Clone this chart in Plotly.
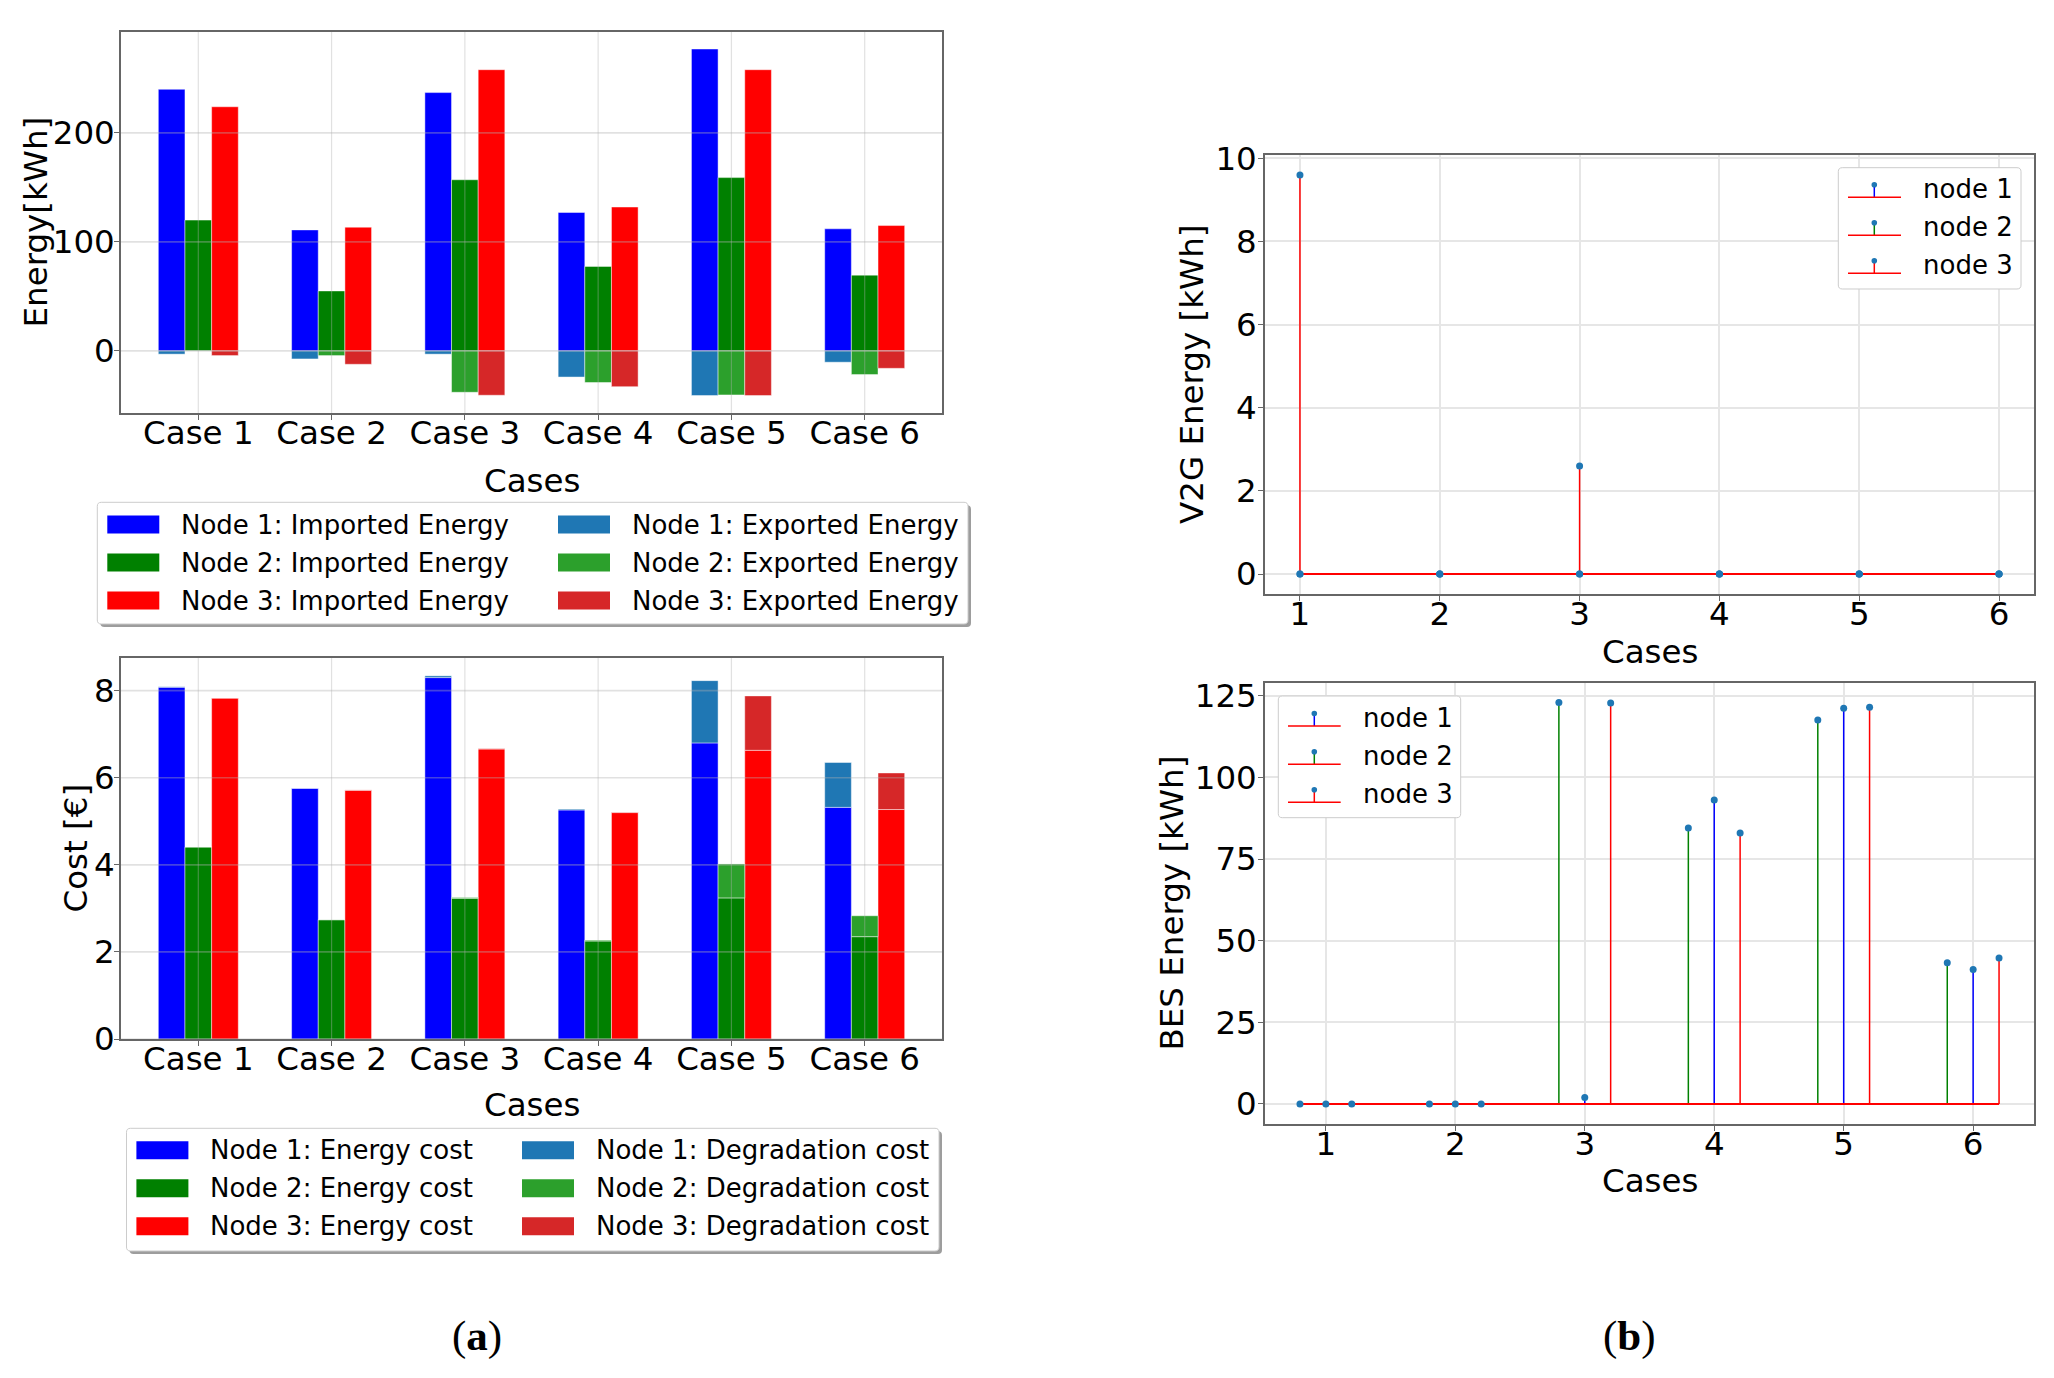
import plotly.graph_objects as go

# ---------------- data ----------------
cases = ["Case 1", "Case 2", "Case 3", "Case 4", "Case 5", "Case 6"]
case_numbers = [1, 2, 3, 4, 5, 6]

imported_node1 = [240, 111, 237, 127, 277, 112]
imported_node2 = [120, 55, 157, 77.5, 159, 69.5]
imported_node3 = [224, 113.5, 258, 132, 258, 115]
exported_node1 = [-3, -7.4, -3, -24, -41, -10.4]
exported_node2 = [0, -4.3, -38, -29, -40.4, -21.7]
exported_node3 = [-4.3, -12.3, -40.7, -32.8, -41, -16]

energy_cost_node1 = [8.08, 5.76, 8.30, 5.26, 6.80, 5.32]
energy_cost_node2 = [4.41, 2.74, 3.23, 2.25, 3.24, 2.35]
energy_cost_node3 = [7.83, 5.71, 6.66, 5.20, 6.63, 5.27]
degradation_cost_node1 = [0.01, 0.0, 0.04, 0.02, 1.43, 1.03]
degradation_cost_node2 = [0.0, 0.0, 0.02, 0.02, 0.78, 0.48]
degradation_cost_node3 = [0.0, 0.01, 0.01, 0.01, 1.25, 0.84]

v2g_node1 = [0, 0, 0, 0, 0, 0]
v2g_node2 = [0, 0, 0, 0, 0, 0]
v2g_node3 = [9.6, 0, 2.6, 0, 0, 0]

bes_node1 = [0, 0, 2.0, 93.1, 121.2, 41.2]
bes_node2 = [0, 0, 122.9, 84.5, 117.6, 43.2]
bes_node3 = [0, 0, 122.8, 83.0, 121.5, 44.7]

energy_ticks = [0, 100, 200]
cost_ticks = [0, 2, 4, 6, 8]
v2g_ticks = [0, 2, 4, 6, 8, 10]
bes_ticks = [0, 25, 50, 75, 100, 125]

imported_labels = ["Node 1: Imported Energy", "Node 2: Imported Energy", "Node 3: Imported Energy"]
exported_labels = ["Node 1: Exported Energy", "Node 2: Exported Energy", "Node 3: Exported Energy"]
energy_cost_labels = ["Node 1: Energy cost", "Node 2: Energy cost", "Node 3: Energy cost"]
degradation_labels = ["Node 1: Degradation cost", "Node 2: Degradation cost", "Node 3: Degradation cost"]
stem_labels = ["node 1", "node 2", "node 3"]

# ---------------- styling ----------------
W, H = 2054, 1378
FONT = "DejaVu Sans"
TICK_SIZE = 32.5
TITLE_SIZE = 32.5
LEG_SIZE = 26
main_colors = ["#0000ff", "#008000", "#ff0000"]
alt_colors = ["#1f77b4", "#2ca02c", "#d62728"]
marker_color = "#1f77b4"
frame_color = "#666666"
grid_over = "rgba(176,176,176,0.38)"
bar_offsets = [-0.3, -0.1, 0.1]
bar_width = 0.2
stem_offsets = [0.0, -0.2, 0.2]


def px(x):
    return x / W


def py(y):
    return 1 - y / H


def dom_x(a, b):
    return [a / W, b / W]


def dom_y(top, bottom):
    return [1 - bottom / H, 1 - top / H]


fig = go.Figure()

edge = dict(width=1, color="rgba(255,255,255,0.45)")

# ---- energy bars (top-left) ----
imported = [imported_node1, imported_node2, imported_node3]
exported = [exported_node1, exported_node2, exported_node3]
for i in range(3):
    fig.add_trace(go.Bar(x=cases, y=imported[i], width=bar_width, offset=bar_offsets[i],
                         marker=dict(color=main_colors[i], line=edge),
                         name=imported_labels[i], showlegend=False, xaxis="x", yaxis="y"))
for i in range(3):
    fig.add_trace(go.Bar(x=cases, y=exported[i], width=bar_width, offset=bar_offsets[i],
                         marker=dict(color=alt_colors[i], line=edge),
                         name=exported_labels[i], showlegend=False, xaxis="x", yaxis="y"))

# ---- cost bars (bottom-left) ----
energy_cost = [energy_cost_node1, energy_cost_node2, energy_cost_node3]
degradation = [degradation_cost_node1, degradation_cost_node2, degradation_cost_node3]
for i in range(3):
    fig.add_trace(go.Bar(x=cases, y=energy_cost[i], width=bar_width, offset=bar_offsets[i],
                         marker=dict(color=main_colors[i], line=edge),
                         name=energy_cost_labels[i], showlegend=False, xaxis="x2", yaxis="y2"))
for i in range(3):
    fig.add_trace(go.Bar(x=cases, y=degradation[i], base=energy_cost[i], width=bar_width,
                         offset=bar_offsets[i],
                         marker=dict(color=alt_colors[i], line=edge),
                         name=degradation_labels[i], showlegend=False, xaxis="x2", yaxis="y2"))


# ---- stem plots ----
def stem_xy(xs, ys):
    sx, sy = [], []
    for x, y in zip(xs, ys):
        sx += [x, x, None]
        sy += [0, y, None]
    return sx, sy


def add_stems(series, offsets, xa, ya):
    xs_all = []
    for i, vals in enumerate(series):
        xs = [c + offsets[i] for c in case_numbers]
        xs_all.append(xs)
        sx, sy = stem_xy(xs, vals)
        fig.add_trace(go.Scatter(x=sx, y=sy, mode="lines", line=dict(color=main_colors[i], width=1.5),
                                 name=stem_labels[i], showlegend=False, xaxis=xa, yaxis=ya,
                                 hoverinfo="skip"))
        fig.add_trace(go.Scatter(x=[min(xs), max(xs)], y=[0, 0], mode="lines",
                                 line=dict(color="#ff0000", width=2), showlegend=False,
                                 xaxis=xa, yaxis=ya, hoverinfo="skip"))
    for i, vals in enumerate(series):
        fig.add_trace(go.Scatter(x=xs_all[i], y=vals, mode="markers",
                                 marker=dict(color=marker_color, size=7),
                                 name=stem_labels[i], showlegend=False, xaxis=xa, yaxis=ya))


add_stems([v2g_node1, v2g_node2, v2g_node3], [0, 0, 0], "x3", "y3")
add_stems([bes_node1, bes_node2, bes_node3], stem_offsets, "x4", "y4")

# ---------------- axes ----------------
tickfont = dict(family=FONT, size=TICK_SIZE, color="black")
common = dict(showline=True, linecolor=frame_color, linewidth=1.5, mirror=True,
              ticks="outside", ticklen=5, tickwidth=1.3, tickcolor=frame_color,
              tickfont=tickfont, zeroline=False, automargin=False)
grid = dict(showgrid=True, gridcolor="#e6e6e6", gridwidth=1.5)
XSO = -15

layout = dict(
    width=W, height=H, margin=dict(l=0, r=0, t=0, b=0, autoexpand=False),
    paper_bgcolor="white", plot_bgcolor="white",
    barmode="overlay", showlegend=False,
    font=dict(family=FONT, size=TICK_SIZE, color="black"),
    xaxis=dict(domain=dom_x(121, 942), anchor="y", type="category", range=[-0.58, 5.58],
               showgrid=False, ticklabelstandoff=XSO, **common),
    yaxis=dict(domain=dom_y(32, 413), anchor="x", range=[-57.0, 292.6], tickvals=energy_ticks,
               showgrid=False, ticklabelstandoff=-7, **common),
    xaxis2=dict(domain=dom_x(121, 942), anchor="y2", type="category", range=[-0.58, 5.58],
                showgrid=False, ticklabelstandoff=XSO, **common),
    yaxis2=dict(domain=dom_y(658, 1039), anchor="x2", range=[0, 8.75], tickvals=cost_ticks,
                showgrid=False, ticklabelstandoff=-7, **common),
    xaxis3=dict(domain=dom_x(1265, 2034), anchor="y3", range=[0.75, 6.25], tickvals=case_numbers,
                ticklabelstandoff=XSO, **grid, **common),
    yaxis3=dict(domain=dom_y(155, 594), anchor="x3", range=[-0.48, 10.08], tickvals=v2g_ticks,
                ticklabelstandoff=-5, **grid, **common),
    xaxis4=dict(domain=dom_x(1265, 2034), anchor="y4", range=[0.53, 6.47], tickvals=case_numbers,
                ticklabelstandoff=XSO, **grid, **common),
    yaxis4=dict(domain=dom_y(683, 1124), anchor="x4", range=[-6.14, 128.9], tickvals=bes_ticks,
                ticklabelstandoff=-5, **grid, **common),
)
fig.update_layout(**layout)

shapes = []
annotations = []

# axis titles
title_font = dict(family=FONT, size=TITLE_SIZE, color="black")
for text, xc, yc in [("Cases", 531.5, 481), ("Cases", 531.5, 1105),
                     ("Cases", 1649.5, 652), ("Cases", 1649.5, 1181)]:
    annotations.append(dict(text=text, xref="paper", yref="paper", x=px(xc), y=py(yc),
                            xanchor="center", yanchor="middle", showarrow=False, font=title_font))
for text, xc, yc in [("Energy[kWh]", 35, 222.5), ("Cost [€]", 75, 848.5),
                     ("V2G Energy [kWh]", 1192.5, 374.5), ("BES Energy [kWh]", 1171, 903.5)]:
    annotations.append(dict(text=text, xref="paper", yref="paper", x=px(xc), y=py(yc),
                            xanchor="center", yanchor="middle", textangle=-90, showarrow=False,
                            font=title_font))

# gridlines drawn over the bars (as in the reference)
for xa, ya, ticks in [("x", "y", energy_ticks), ("x2", "y2", cost_ticks)]:
    for t in ticks:
        shapes.append(dict(type="line", xref=xa + " domain", x0=0, x1=1, yref=ya, y0=t, y1=t,
                           line=dict(color=grid_over, width=1.6), layer="above"))
    for c in cases:
        shapes.append(dict(type="line", xref=xa, x0=c, x1=c, yref=ya + " domain", y0=0, y1=1,
                           line=dict(color=grid_over, width=1.2), layer="above"))


def rrect_path(x0, y0, x1, y1, r):
    def P(x, y):
        return f"{px(x):.6f},{py(y):.6f}"
    return (f"M{P(x0 + r, y0)} L{P(x1 - r, y0)} Q{P(x1, y0)} {P(x1, y0 + r)} "
            f"L{P(x1, y1 - r)} Q{P(x1, y1)} {P(x1 - r, y1)} L{P(x0 + r, y1)} "
            f"Q{P(x0, y1)} {P(x0, y1 - r)} L{P(x0, y0 + r)} Q{P(x0, y0)} {P(x0 + r, y0)} Z")


def legend_box(x0, y0, x1, y1, shadow):
    if shadow:
        shapes.append(dict(type="path", xref="paper", yref="paper",
                           path=rrect_path(x0 + 3, y0 + 3, x1 + 3, y1 + 3, 4),
                           fillcolor="rgba(77,77,77,0.55)", line=dict(width=0), layer="above"))
    shapes.append(dict(type="path", xref="paper", yref="paper",
                       path=rrect_path(x0, y0, x1, y1, 4),
                       fillcolor="white", line=dict(color="#cccccc", width=1), layer="above"))


def patch_legend(box, cols, rows_top, labels_cols, colors_cols):
    legend_box(*box, shadow=True)
    for (xp, xt), labels, colors in zip(cols, labels_cols, colors_cols):
        for yt, lab, col in zip(rows_top, labels, colors):
            shapes.append(dict(type="rect", xref="paper", yref="paper",
                               x0=px(xp), x1=px(xp + 52), y0=py(yt), y1=py(yt + 18),
                               fillcolor=col, line=dict(width=0), layer="above"))
            annotations.append(dict(text=lab, xref="paper", yref="paper", x=px(xt), y=py(yt + 9),
                                    xanchor="left", yanchor="middle", showarrow=False,
                                    font=dict(family=FONT, size=LEG_SIZE, color="black")))


patch_legend((97.3, 502.3, 968, 624), [(107.3, 178.5), (558, 629.5)], [515.5, 553.5, 591.5],
             [imported_labels, exported_labels], [main_colors, alt_colors])
patch_legend((126.5, 1128.3, 939, 1251), [(136.4, 208), (522, 593.5)], [1141.3, 1179.3, 1217.3],
             [energy_cost_labels, degradation_labels], [main_colors, alt_colors])


def stem_legend(box, xb0, xb1, xs, xt, rows_base):
    legend_box(*box, shadow=False)
    for i, yb in enumerate(rows_base):
        shapes.append(dict(type="line", xref="paper", yref="paper", x0=px(xs), x1=px(xs),
                           y0=py(yb), y1=py(yb - 12.5), line=dict(color=main_colors[i], width=1.5),
                           layer="above"))
        shapes.append(dict(type="line", xref="paper", yref="paper", x0=px(xb0), x1=px(xb1),
                           y0=py(yb), y1=py(yb), line=dict(color="#ff0000", width=1.5),
                           layer="above"))
        shapes.append(dict(type="circle", xref="paper", yref="paper",
                           x0=px(xs - 2.8), x1=px(xs + 2.8), y0=py(yb - 12.5 - 2.8),
                           y1=py(yb - 12.5 + 2.8), fillcolor=marker_color,
                           line=dict(width=0), layer="above"))
        annotations.append(dict(text=stem_labels[i], xref="paper", yref="paper", x=px(xt),
                                y=py(yb - 8), xanchor="left", yanchor="middle", showarrow=False,
                                font=dict(family=FONT, size=LEG_SIZE, color="black")))


stem_legend((1838.3, 167.7, 2021, 289), 1848, 1901, 1874.3, 1921, [197.3, 235.3, 273.3])
stem_legend((1278.3, 696, 1460.7, 817.7), 1288, 1340.7, 1314.3, 1361, [726, 764.3, 802.3])

# panel labels
for lab, xc in [("(<b>a</b>)", 476.7), ("(<b>b</b>)", 1629.7)]:
    annotations.append(dict(text=lab, xref="paper", yref="paper", x=px(xc), y=py(1336),
                            xanchor="center", yanchor="middle", showarrow=False,
                            font=dict(family="Liberation Serif", size=43, color="black")))

fig.update_layout(shapes=shapes, annotations=annotations)
fig.write_html("out.html")
